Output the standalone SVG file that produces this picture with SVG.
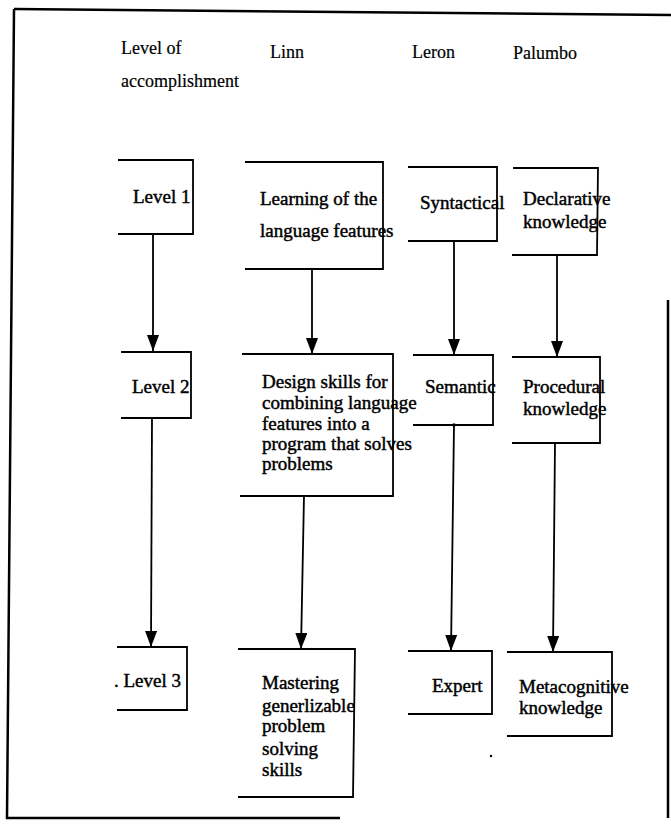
<svg xmlns="http://www.w3.org/2000/svg" width="671" height="824" viewBox="0 0 671 824">
<style>
.box{fill:none;stroke:#000;stroke-width:1.8}
.frame{fill:none;stroke:#000;stroke-width:2.5}
.conn{fill:none;stroke:#000;stroke-width:1.8}
.t{font-family:"Liberation Serif","Times New Roman",serif;font-size:19px;fill:#000;stroke:#000;stroke-width:0.45}
.h{font-family:"Liberation Serif","Times New Roman",serif;font-size:18px;fill:#000;stroke:#000;stroke-width:0.2}
</style>
<defs>
<marker id="arrv" viewBox="0 0 16 12" refX="16" refY="6" markerWidth="16" markerHeight="12" markerUnits="userSpaceOnUse" orient="auto">
<path d="M0 0 L16 6 L0 12 Z" fill="#000"/>
</marker>
</defs>
<rect width="671" height="824" fill="#fff"/>
<g id="frame">
<path class="frame" d="M14 9 L671 15"/>
<path class="frame" d="M14 9 L7 818 L340 818"/>
<path class="frame" d="M668 300 L668 818"/>
</g>
<g id="headers">
<text class="h" x="121" y="54">Level of</text>
<text class="h" x="121" y="87">accomplishment</text>
<text class="h" x="270" y="58">Linn</text>
<text class="h" x="412" y="58">Leron</text>
<text class="h" x="513" y="59">Palumbo</text>
</g>
<g id="connectors">
<path class="conn" d="M153 234 L153 351" marker-end="url(#arrv)"/>
<path class="conn" d="M312 269 L312 354" marker-end="url(#arrv)"/>
<path class="conn" d="M454 241 L454 355" marker-end="url(#arrv)"/>
<path class="conn" d="M557 255 L557 357" marker-end="url(#arrv)"/>
<path class="conn" d="M152 418 L151 647" marker-end="url(#arrv)"/>
<path class="conn" d="M304 496 L301 649" marker-end="url(#arrv)"/>
<path class="conn" d="M454 425 L451 651" marker-end="url(#arrv)"/>
<path class="conn" d="M555 443 L553 652" marker-end="url(#arrv)"/>
<circle cx="454" cy="425" r="1.8" fill="#000"/>
</g>
<g id="level1">
<path class="box" d="M118 160 L193 160 L193 234 L118 234"/>
<text class="t" x="133" y="203">Level 1</text>
</g>
<g id="linn1">
<path class="box" d="M245 162 L383 162 L383 269 L245 269"/>
<text class="t" x="260" y="205">Learning of the</text>
<text class="t" x="260" y="237">language features</text>
</g>
<g id="leron1">
<path class="box" d="M408 167 L497 167 L497 241 L408 241"/>
<text class="t" x="420" y="209">Syntactical</text>
</g>
<g id="palumbo1">
<path class="box" d="M513 168 L598 168 L597 255 L512 255"/>
<text class="t" x="523" y="205">Declarative</text>
<text class="t" x="523" y="228">knowledge</text>
</g>
<g id="level2">
<path class="box" d="M121 352 L191 352 L191 418 L121 418"/>
<text class="t" x="132" y="393">Level 2</text>
</g>
<g id="linn2">
<path class="box" d="M242 354 L393 354 L393 496 L240 496"/>
<text class="t" x="262" y="388">Design skills for</text>
<text class="t" x="262" y="409">combining language</text>
<text class="t" x="262" y="430">features into a</text>
<text class="t" x="262" y="450">program that solves</text>
<text class="t" x="262" y="470">problems</text>
</g>
<g id="leron2">
<path class="box" d="M413 355 L493 355 L493 425 L413 425"/>
<text class="t" x="425" y="393">Semantic</text>
</g>
<g id="palumbo2">
<path class="box" d="M512 357 L600 357 L600 443 L512 443"/>
<text class="t" x="523" y="393">Procedural</text>
<text class="t" x="523" y="415">knowledge</text>
</g>
<g id="level3">
<path class="box" d="M117 647 L187 647 L187 710 L117 710"/>
<text class="t" x="114" y="687">. Level 3</text>
</g>
<g id="linn3">
<path class="box" d="M238 649 L355 649 L353 797 L238 797"/>
<text class="t" x="262" y="689">Mastering</text>
<text class="t" x="262" y="712">generlizable</text>
<text class="t" x="262" y="732">problem</text>
<text class="t" x="262" y="755">solving</text>
<text class="t" x="262" y="776">skills</text>
</g>
<g id="leron3">
<path class="box" d="M408 651 L492 651 L492 714 L408 714"/>
<text class="t" x="432" y="692">Expert</text>
</g>
<g id="palumbo3">
<path class="box" d="M507 652 L612 652 L612 736 L507 736"/>
<text class="t" x="519" y="693">Metacognitive</text>
<text class="t" x="519" y="714">knowledge</text>
</g>
<circle cx="491" cy="756" r="1.2" fill="#000"/>
</svg>
